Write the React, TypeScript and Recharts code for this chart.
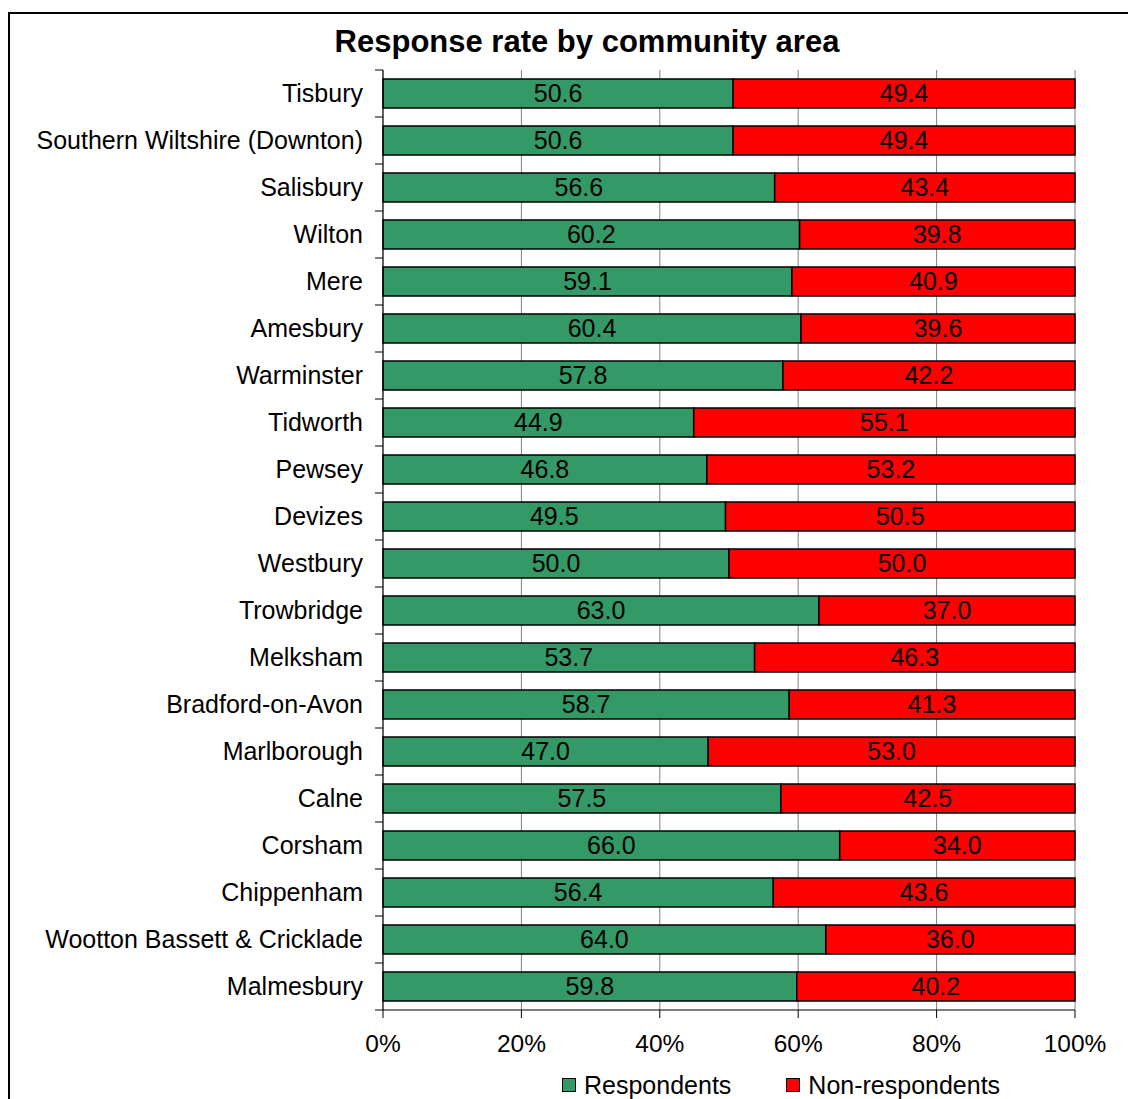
import React from "react";
import {
  BarChart, Bar, XAxis, YAxis, CartesianGrid, LabelList,
} from "recharts";

const areas = [
  "Tisbury", "Southern Wiltshire (Downton)", "Salisbury", "Wilton", "Mere",
  "Amesbury", "Warminster", "Tidworth", "Pewsey", "Devizes", "Westbury",
  "Trowbridge", "Melksham", "Bradford-on-Avon", "Marlborough", "Calne",
  "Corsham", "Chippenham", "Wootton Bassett & Cricklade", "Malmesbury",
];
const respondents = [
  50.6, 50.6, 56.6, 60.2, 59.1, 60.4, 57.8, 44.9, 46.8, 49.5, 50.0,
  63.0, 53.7, 58.7, 47.0, 57.5, 66.0, 56.4, 64.0, 59.8,
];
const nonRespondents = [
  49.4, 49.4, 43.4, 39.8, 40.9, 39.6, 42.2, 55.1, 53.2, 50.5, 50.0,
  37.0, 46.3, 41.3, 53.0, 42.5, 34.0, 43.6, 36.0, 40.2,
];
const xTicks = [0, 20, 40, 60, 80, 100];

const data = areas.map((area, i) => ({
  area,
  resp: respondents[i],
  non: nonRespondents[i],
}));

const GREEN = "#339966";
const RED = "#FF0000";
const FONT = "'Liberation Sans', Arial, sans-serif";
const FS = 25;

const W = 1128;
const H = 1099;
const TOP = 70;
const BOTTOM = 1010;
const BAND = (BOTTOM - TOP) / areas.length;

// category label at band centre, tick marks on band boundaries (Excel style)
function CatTick(props: any) {
  const { x, y, payload, index } = props;
  const ax = x + 20;
  return (
    <g>
      <text x={x} y={y - 1} textAnchor="end" dominantBaseline="central"
        fontSize={FS} fontFamily={FONT} fill="#000">{payload.value}</text>
      <line x1={ax - 8} x2={ax} y1={y - BAND / 2} y2={y - BAND / 2} stroke="#000" strokeWidth={1} />
      {index === areas.length - 1 && (
        <line x1={ax - 8} x2={ax} y1={y + BAND / 2} y2={y + BAND / 2} stroke="#000" strokeWidth={1} />
      )}
    </g>
  );
}

function LegendItem({ color, label }: { color: string; label: string }) {
  return (
    <span style={{ display: "inline-flex", alignItems: "center", gap: 8 }}>
      <span style={{ width: 12, height: 12, background: color, border: "1.5px solid #000", display: "inline-block" }} />
      {label}
    </span>
  );
}

export default function App() {
  return (
    <div style={{ position: "fixed", left: 0, top: 0, width: W, height: H, overflow: "hidden", background: "#fff", fontFamily: FONT }}>
      <div style={{ position: "absolute", left: 8, top: 12, width: 1200, height: 1200, border: "2px solid #000" }} />
      <div style={{ position: "absolute", left: 0, width: 1174, top: 24, textAlign: "center", fontSize: 31, fontWeight: "bold", lineHeight: "36px" }}>
        Response rate by community area
      </div>
      <div style={{ position: "absolute", top: 0, left: 0 }}>
        <BarChart width={W} height={H} data={data} layout="vertical"
          margin={{ top: TOP, right: W - 1075, bottom: 29, left: 0 }} barSize={29}>
          <CartesianGrid horizontal={false} vertical stroke="#808080" strokeWidth={1} />
          <XAxis xAxisId="top" orientation="top" type="number" domain={[0, 100]} ticks={xTicks}
            height={0} tick={false} tickLine={false} axisLine={{ stroke: "#a0a0a0" }} />
          <XAxis type="number" domain={[0, 100]} ticks={xTicks} height={60}
            tickFormatter={(v: number) => `${v}%`} tickSize={8} tickMargin={17}
            axisLine={{ stroke: "#000" }} tickLine={{ stroke: "#000" }}
            tick={{ fontSize: 24.5, fontFamily: FONT, fill: "#000" }} />
          <YAxis type="category" dataKey="area" width={383} tickLine={false} tickSize={0} tickMargin={20}
            interval={0} axisLine={{ stroke: "#000" }} tick={<CatTick />} />
          <Bar dataKey="resp" stackId="a" fill={GREEN} stroke="#000" strokeWidth={1.5} isAnimationActive={false}>
            <LabelList dataKey="resp" position="center" formatter={(v: any) => Number(v).toFixed(1)}
              style={{ fontSize: FS, fontFamily: FONT, fill: "#000" }} />
          </Bar>
          <Bar dataKey="non" stackId="a" fill={RED} stroke="#000" strokeWidth={1.5} isAnimationActive={false}>
            <LabelList dataKey="non" position="center" formatter={(v: any) => Number(v).toFixed(1)}
              style={{ fontSize: FS, fontFamily: FONT, fill: "#000" }} />
          </Bar>
        </BarChart>
      </div>
      <div style={{ position: "absolute", top: 1070, left: 562, fontSize: FS, lineHeight: "30px", display: "flex", gap: 55 }}>
        <LegendItem color={GREEN} label="Respondents" />
        <LegendItem color={RED} label="Non-respondents" />
      </div>
    </div>
  );
}
